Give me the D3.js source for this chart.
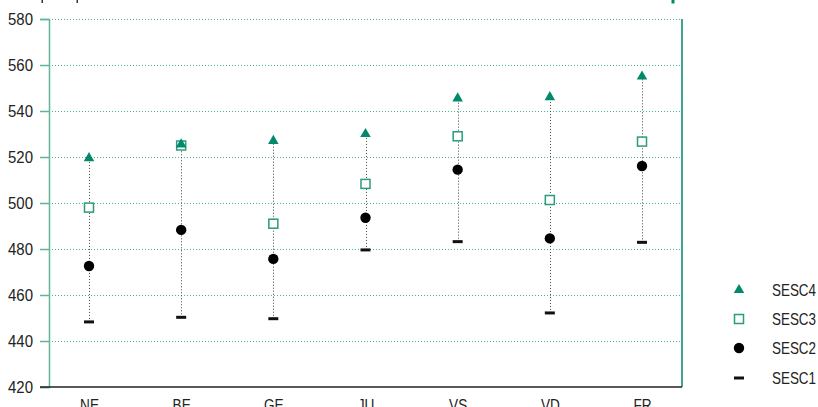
<!DOCTYPE html>
<html>
<head>
<meta charset="utf-8">
<script src="https://cdn.jsdelivr.net/npm/d3@7"></script>
<style>
  body { margin: 0; background: #fff; }
  svg { display: block; }
  text { font-family: "Liberation Sans", Arial, sans-serif; fill: #222; }
</style>
</head>
<body>
<svg id="chart" width="818" height="407"></svg>
<script>
const categories = ["NE", "BE", "GE", "JU", "VS", "VD", "FR"];
const sesc4 = [519.5, 525.5, 527, 530, 545.5, 546, 555];
const sesc3 = [498, 525, 491, 508.3, 529, 501.3, 526.7];
const sesc2 = [472.6, 488.3, 475.7, 493.6, 514.5, 484.6, 516.1];
const sesc1 = [448.3, 450.3, 449.7, 479.6, 483.2, 452.2, 482.9];
const yTicks = [420, 440, 460, 480, 500, 520, 540, 560, 580];
const seriesNames = ["SESC4", "SESC3", "SESC2", "SESC1"];

(function () {
const svg = d3.select("#chart");
const pLeft = 49, pRight = 682, pTop = 19, pBottom = 387;
const green = "#00896a";

// horizontally condense text, keeping its anchor position
function condense(sel, f) {
  sel.each(function () {
    const t = d3.select(this);
    const w = this.getComputedTextLength();
    const nw = w * f;
    const anchor = t.attr("text-anchor") || window.getComputedStyle(this).textAnchor || "start";
    const x0 = +(t.attr("x") || 0);
    let xs = x0;
    if (anchor === "middle") xs = x0 - nw / 2;
    else if (anchor === "end") xs = x0 - nw;
    t.attr("text-anchor", "start").attr("x", xs)
      .attr("textLength", nw).attr("lengthAdjust", "spacingAndGlyphs");
  });
}

const x = d3.scalePoint().domain(categories).range([89, 642]);
const y = d3.scaleLinear().domain([420, 580]).range([pBottom, pTop]);

// top cropped fragments
svg.append("rect").attr("x", 41.5).attr("y", 0).attr("width", 1.5).attr("height", 3).attr("fill", "#333");
svg.append("rect").attr("x", 76.5).attr("y", 0).attr("width", 1.5).attr("height", 3).attr("fill", "#333");
svg.append("rect").attr("x", 671.5).attr("y", 0).attr("width", 3).attr("height", 3.5).attr("fill", green);

// grid
svg.append("g").selectAll("line").data(yTicks.filter(t => t > 420)).join("line")
  .attr("x1", pLeft).attr("x2", pRight)
  .attr("y1", d => Math.round(y(d)) + 0.5).attr("y2", d => Math.round(y(d)) + 0.5)
  .attr("stroke", "#45b38c").attr("stroke-width", 1).attr("stroke-dasharray", "1,2");

// y axis
const yAxis = d3.axisLeft(y).tickValues(yTicks).tickSize(9).tickPadding(7).tickFormat(d3.format("d"));
const gy = svg.append("g").attr("transform", `translate(${pLeft},0)`).call(yAxis);
gy.select(".domain").attr("stroke", "#5fb59b").attr("stroke-width", 1.5);
gy.selectAll(".tick line").attr("stroke", "#5fb59b").attr("stroke-width", 1.5);
gy.selectAll(".tick text").attr("font-size", 17).attr("fill", "#222").attr("text-anchor", "end")
  .style("font-family", '"Liberation Sans", Arial, sans-serif');
condense(gy.selectAll(".tick text"), 0.88);

// right border
svg.append("line").attr("x1", pRight).attr("x2", pRight).attr("y1", pTop).attr("y2", pBottom)
  .attr("stroke", green).attr("stroke-width", 1.5);

// x axis
const xAxis = d3.axisBottom(x).tickSize(0).tickPadding(8);
const gx = svg.append("g").attr("transform", `translate(0,${pBottom})`).call(xAxis);
gx.select(".domain").remove();
svg.append("line").attr("x1", 40).attr("x2", pRight).attr("y1", pBottom).attr("y2", pBottom)
  .attr("stroke", "#222").attr("stroke-width", 1.5);
gx.selectAll(".tick text").attr("font-size", 17).attr("fill", "#222").attr("dy", "0.95em")
  .attr("text-anchor", "middle")
  .style("font-family", '"Liberation Sans", Arial, sans-serif');
condense(gx.selectAll(".tick text"), 0.8);

// connectors
svg.append("g").selectAll("line").data(categories).join("line")
  .attr("x1", d => Math.round(x(d)) + 0.5).attr("x2", d => Math.round(x(d)) + 0.5)
  .attr("y1", (d, i) => y(sesc1[i])).attr("y2", (d, i) => y(sesc4[i]))
  .attr("stroke", "#444").attr("stroke-width", 1).attr("stroke-dasharray", "1,2");

const tri = d3.symbol().type(d3.symbolTriangle).size(48);

function drawMarker(g, kind, cx, cy) {
  if (kind === 0) {
    g.append("path").attr("d", tri).attr("transform", `translate(${cx},${cy})`).attr("fill", green);
  } else if (kind === 1) {
    g.append("rect").attr("x", cx - 4.5).attr("y", cy - 4.5).attr("width", 9).attr("height", 9)
      .attr("fill", "#fff").attr("stroke", "#2a9c7c").attr("stroke-width", 1.5);
  } else if (kind === 2) {
    g.append("circle").attr("cx", cx).attr("cy", cy).attr("r", 5.2).attr("fill", "#000");
  } else {
    g.append("rect").attr("x", cx - 5).attr("y", cy - 1.5).attr("width", 10).attr("height", 3).attr("fill", "#111");
  }
}

const marks = svg.append("g");
const allSeries = [sesc4, sesc3, sesc2, sesc1];
[3, 2, 1, 0].forEach(k => {
  categories.forEach((c, i) => drawMarker(marks, k, x(c), y(allSeries[k][i])));
});

// legend
const leg = svg.append("g");
const legY = [290, 319, 348, 378];
seriesNames.forEach((name, k) => {
  drawMarker(leg, k, 739, legY[k]);
  leg.append("text").attr("x", 772).attr("y", legY[k]).attr("dy", "0.35em")
    .attr("text-anchor", "start").attr("font-size", 17).text(name);
});
condense(leg.selectAll("text"), 0.79);
})();
</script>
</body>
</html>
